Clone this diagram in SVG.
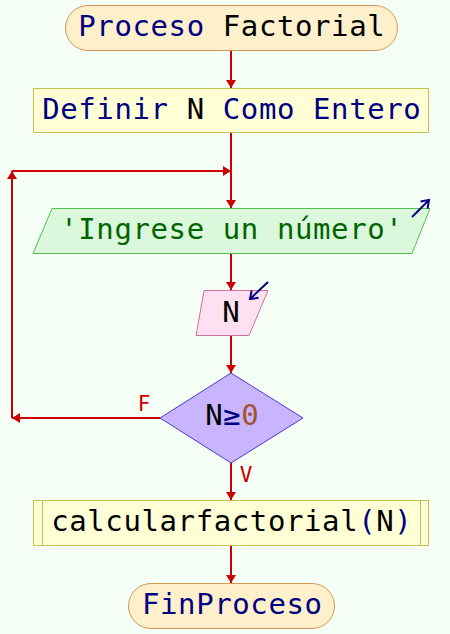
<svg xmlns="http://www.w3.org/2000/svg" width="450" height="634" viewBox="0 0 450 634">
<defs>
<style>
.t{font-family:"DejaVu Sans Mono","Liberation Mono",monospace;font-size:29px;text-anchor:middle;letter-spacing:0.6px}
.kw{fill:#000080}.bk{fill:#000000}.gr{fill:#006400}.br{fill:#a0522d}
.ln{stroke:#cc0000;stroke-width:2;fill:none;marker-end:url(#ah)}
.lb{font-family:"DejaVu Sans Mono","Liberation Mono",monospace;font-size:21px;fill:#cc0000;text-anchor:middle}
.ic{stroke:#000080;stroke-width:2;fill:none;marker-end:url(#ih)}
</style>
<marker id="ah" markerUnits="userSpaceOnUse" markerWidth="12" markerHeight="12" viewBox="-9 -6 10 12" refX="0" refY="0" orient="auto">
<path d="M0,0 L-8,-5 L-8,5 Z" fill="#cc0000"/>
</marker>
<marker id="ih" markerUnits="userSpaceOnUse" markerWidth="12" markerHeight="12" viewBox="-9 -6 10 12" refX="0" refY="0" orient="auto">
<path d="M-7,-5 L0,0 L-7,5" fill="none" stroke="#000080" stroke-width="2"/>
</marker>
</defs>
<rect x="0" y="0" width="450" height="634" fill="#f5fff5"/>
<g id="connectors">
<line class="ln" x1="231" y1="51" x2="231" y2="88"/>
<line class="ln" x1="231" y1="133" x2="231" y2="208"/>
<line class="ln" x1="12" y1="171" x2="231" y2="171"/>
<line class="ln" x1="231" y1="253" x2="231" y2="290"/>
<line class="ln" x1="231" y1="336" x2="231" y2="373"/>
<line class="ln" x1="160" y1="418" x2="12" y2="418"/>
<line class="ln" x1="12" y1="418" x2="12" y2="171"/>
<line class="ln" x1="231" y1="463" x2="231" y2="500"/>
<line class="ln" x1="231" y1="546" x2="231" y2="583"/>
<text class="lb" x="144" y="411">F</text>
<text class="lb" x="246" y="482">V</text>
</g>
<g id="start">
<rect x="65.5" y="5.5" width="332" height="45" rx="22.5" fill="#fff0cc" stroke="#d09850"/>
<text class="t" x="231.8" y="36"><tspan class="kw">Proceso</tspan> <tspan class="bk">Factorial</tspan></text>
</g>
<g id="define">
<rect x="33.5" y="88.5" width="395" height="44" fill="#ffffd6" stroke="#c8c050"/>
<text class="t" x="231.8" y="119"><tspan class="kw">Definir</tspan> <tspan class="bk">N</tspan> <tspan class="kw">Como Entero</tspan></text>
</g>
<g id="output">
<polygon points="52,208.5 430,208.5 412,253.5 33,253.5" fill="#dcf8dc" stroke="#50c050"/>
<text class="t gr" x="231.8" y="239">'Ingrese un número'</text>
<line class="ic" x1="412" y1="217" x2="429" y2="200"/>
</g>
<g id="input">
<polygon points="204,290.5 268,290.5 249,335.5 196,335.5" fill="#ffe0f0" stroke="#d070a0"/>
<text class="t bk" x="231.3" y="322">N</text>
<line class="ic" x1="268" y1="282" x2="250" y2="299"/>
</g>
<g id="decision">
<polygon points="231,373 303,418 231,463 160,418" fill="#c8b4ff" stroke="#4a3ad0"/>
<text class="t" x="232.3" y="425"><tspan class="bk">N</tspan><tspan class="kw">≥</tspan><tspan class="br">0</tspan></text>
</g>
<g id="call">
<rect x="33.5" y="500.5" width="395" height="45" fill="#ffffd6" stroke="#c8c050"/>
<line x1="42.5" y1="500.5" x2="42.5" y2="545.5" stroke="#c8c050"/>
<line x1="420.5" y1="500.5" x2="420.5" y2="545.5" stroke="#c8c050"/>
<text class="t" x="231.8" y="531"><tspan class="bk">calcularfactorial</tspan><tspan class="kw">(</tspan><tspan class="bk">N</tspan><tspan class="kw">)</tspan></text>
</g>
<g id="end">
<rect x="128.5" y="583.5" width="206" height="45" rx="22.5" fill="#fff0cc" stroke="#d09850"/>
<text class="t kw" x="232.3" y="614">FinProceso</text>
</g>
</svg>
